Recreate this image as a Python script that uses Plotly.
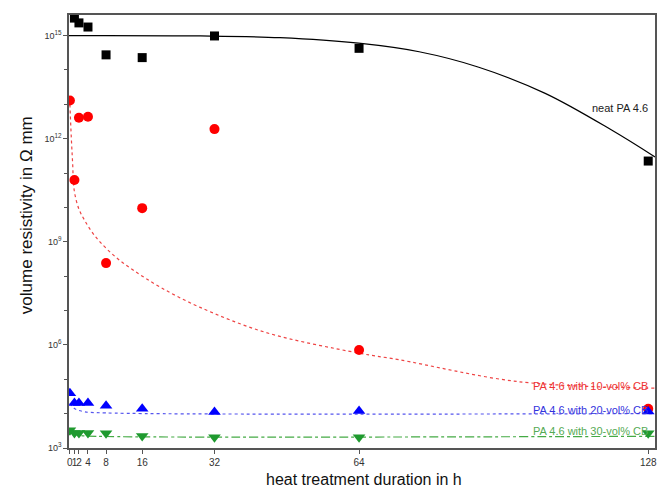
import plotly.graph_objects as go

# ---- data ----
hours = [0, 1, 2, 4, 8, 16, 32, 64, 128]
neat_x = [1, 2, 4, 8, 16, 32, 64, 128]
neat_log = [15.51, 15.37, 15.25, 14.44, 14.36, 14.99, 14.63, 11.35]
cb10_log = [13.11, 10.80, 12.61, 12.64, 8.38, 9.98, 12.28, 5.85, 4.14]
cb20_log = [4.59, 4.31, 4.31, 4.31, 4.23, 4.14, 4.05, 4.08, 4.06]
cb30_log = [3.52, 3.44, 3.44, 3.44, 3.43, 3.35, 3.31, 3.31, 3.43]

# fit curves
fit_neat_x = [-0.2, 28.9, 46.5, 63.9, 77.3, 90.5, 105.2, 119.8, 129.5]
fit_neat_log = [15.0, 14.99, 14.94, 14.78, 14.53, 14.08, 13.32, 12.26, 11.47]
fit_10_x = [0.0, 0.3, 0.6, 0.95, 2.0, 3.2, 4.8, 6.64, 10.0, 13.98, 20.0, 28.7, 43.4, 64.0, 72.8, 99.3, 129.5]
fit_10_log = [13.0, 12.06, 11.3, 10.5, 9.95, 9.64, 9.3, 9.0, 8.57, 8.18, 7.68, 7.1, 6.36, 5.76, 5.57, 4.93, 4.74]
fit_20_x = [0, 1, 3, 8, 129.5]
fit_20_log = [4.3, 4.15, 4.06, 4.02, 4.0]
fit_30_x = [0, 2, 6, 129.5]
fit_30_log = [3.45, 3.37, 3.34, 3.34]

x_ticks = [0, 1, 2, 4, 8, 16, 32, 64, 128]
y_major = [3, 6, 9, 12, 15]

labels = ["neat PA 4.6", "PA 4.6 with 10-vol% CB", "PA 4.6 with 20-vol% CB", "PA 4.6 with 30-vol% CB"]
label_log = [12.9, 4.80, 4.10, 3.49]

FONT = "Liberation Sans, Arial, sans-serif"
AX = "#555555"

def p(v):
    return [10 ** a for a in v]

fig = go.Figure()
fig.add_trace(go.Scatter(x=fit_neat_x, y=p(fit_neat_log), mode="lines", line=dict(color="black", width=1.2, shape="spline"), showlegend=False))
fig.add_trace(go.Scatter(x=fit_10_x, y=p(fit_10_log), mode="lines", line=dict(color="#ee4444", width=1.2, dash="dot", shape="spline"), showlegend=False))
fig.add_trace(go.Scatter(x=fit_20_x, y=p(fit_20_log), mode="lines", line=dict(color="#5555ee", width=1.2, dash="dot", shape="spline"), showlegend=False))
fig.add_trace(go.Scatter(x=fit_30_x, y=p(fit_30_log), mode="lines", line=dict(color="#44aa44", width=1.2, dash="dashdot", shape="spline"), showlegend=False))

fig.add_trace(go.Scatter(x=neat_x, y=p(neat_log), mode="markers", marker=dict(symbol="square", size=9, color="black"), showlegend=False))
fig.add_trace(go.Scatter(x=hours, y=p(cb10_log), mode="markers", marker=dict(symbol="circle", size=10, color="#ff0000"), showlegend=False))
fig.add_trace(go.Scatter(x=hours, y=p(cb20_log), mode="markers", marker=dict(symbol="triangle-up", size=11, color="#0000ff"), showlegend=False))
fig.add_trace(go.Scatter(x=hours, y=p(cb30_log), mode="markers", marker=dict(symbol="triangle-down", size=11, color="#1f9a2f"), showlegend=False))

label_colors = ["#222222", "#ee3333", "#3333dd", "#55aa55"]
for t, yl, c in zip(labels, label_log, label_colors):
    fig.add_annotation(x=128.5, y=yl, text=t, showarrow=False, xanchor="right", yanchor="middle",
                       font=dict(family=FONT, size=11, color=c))

fig.add_annotation(xref="paper", yref="paper", x=(365 - 69) / 588, y=(448 - 479) / 433,
                   text="heat treatment duration in h", showarrow=False, xanchor="center", yanchor="middle",
                   font=dict(family=FONT, size=16, color="#111111"))
fig.add_annotation(xref="paper", yref="paper", x=(26 - 69) / 588, y=(448 - 215) / 433,
                   text="volume resistivity in \u03a9 mm", showarrow=False, textangle=-90,
                   xanchor="center", yanchor="middle",
                   font=dict(family=FONT, size=17, color="#111111"))

fig.update_layout(
    width=659, height=490,
    margin=dict(l=69, r=2, t=15, b=42),
    paper_bgcolor="white", plot_bgcolor="white",
    font=dict(family=FONT),
)
fig.update_xaxes(range=[-0.2, 129.5], tickmode="array", tickvals=x_ticks, ticktext=[str(v) for v in x_ticks],
                 tickangle=0,
                 ticks="outside", ticklen=4, tickcolor=AX, showline=True, linecolor=AX, linewidth=1.5,
                 mirror=True, showgrid=False, zeroline=False,
                 tickfont=dict(family=FONT, size=10, color="#333333"))
fig.update_yaxes(type="log", range=[3, 15.6], tickmode="array", tickvals=[10 ** k for k in y_major],
                 ticktext=["10<sup>%d</sup>" % k for k in y_major],
                 ticks="outside", ticklen=4, tickcolor=AX, showline=True, linecolor=AX, linewidth=1.5,
                 mirror=True, showgrid=False, zeroline=False,
                 minor=dict(tickmode="array", tickvals=[10 ** k for k in range(3, 16)], ticks="outside",
                            ticklen=3, tickcolor=AX, showgrid=False),
                 tickfont=dict(family=FONT, size=9, color="#333333"))

fig.write_html("out.html")
